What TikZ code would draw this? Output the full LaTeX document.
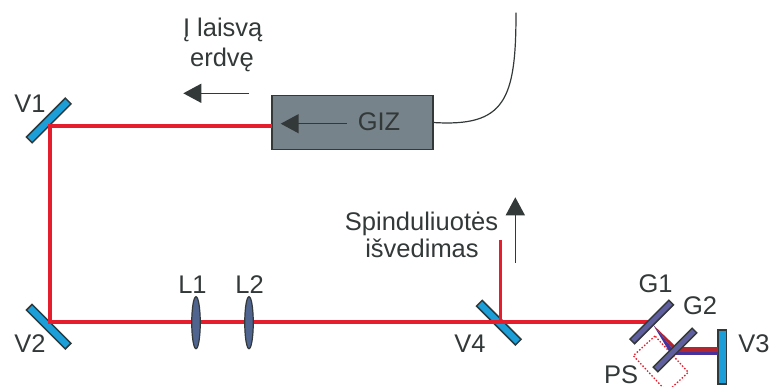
\documentclass[tikz,border=0pt]{standalone}
\usepackage{fontspec}
\setmainfont{Liberation Sans}
\usetikzlibrary{arrows.meta,shapes.geometric}
\definecolor{beamred}{HTML}{E41E2D}
\definecolor{mirrorblue}{HTML}{1C9FD8}
\definecolor{edgedark}{HTML}{333839}
\definecolor{gizgray}{HTML}{76838A}
\definecolor{lensblue}{HTML}{4F6590}
\definecolor{gratepurple}{HTML}{5F5FA0}
\definecolor{bandred}{HTML}{B3262F}
\definecolor{bandblue}{HTML}{46329A}
\tikzset{
  x=1pt,y=-1pt,
  mirror/.style={draw=edgedark,line width=1.5pt,fill=mirrorblue,rectangle,minimum width=55pt,minimum height=8pt,inner sep=0pt,outer sep=0pt},
  grating/.style={mirror,fill=gratepurple,minimum height=6.5pt},
  lens/.style={draw=edgedark,line width=1.2pt,fill=lensblue,ellipse,minimum width=8.5pt,minimum height=52pt,inner sep=0pt,outer sep=0pt},
  beam/.style={draw=beamred,line width=4.2pt},
  label/.style={font=\fontsize{25.5}{25.5}\selectfont,text=edgedark,anchor=base,inner sep=0pt},
  flow/.style={draw=edgedark,line width=1.5pt,-{Triangle[length=18pt,width=19pt,fill=edgedark]}},
  psbox/.style={draw=beamred,line width=1.3pt,dash pattern=on 1.5pt off 1.8pt},
}
\begin{document}
\begin{tikzpicture}
\useasboundingbox (0,0) rectangle (770,387);
% components
\node[mirror,rotate=45] (V1) at (48.7,120.5) {};
\node[mirror,rotate=-45] (V2) at (48.7,326.7) {};
\node[mirror,rotate=-45] (V4) at (498.8,322.7) {};
\node[rectangle,draw=edgedark,line width=1.5pt,fill=gizgray,minimum width=161pt,minimum height=54pt,inner sep=0pt,outer sep=0pt] (GIZ) at (352.7,122.7) {};
\coordinate (c1) at (50.3,126);
\coordinate (c2) at (50.3,321.7);
\coordinate (c4) at (500.3,321.7);
\coordinate (c5) at (651,321.7);
\coordinate (out) at (500.3,240);
% beams
\draw[beam,line join=miter] (GIZ.west |- c1) -- (c1) -- (c2) -- (c5);
\draw[beam,line width=3.6pt] (c4) -- (out);
\node[lens] (L1) at (196,322.7) {};
\node[lens] (L2) at (249,322.7) {};
% compressor
\coordinate (p1) at (655,336);
\coordinate (p2) at (633.3,355.7);
\coordinate (p3) at (667,392);
\coordinate (p4) at (688.3,372.3);
\draw[psbox] (p1) -- (p2) -- (p3) -- (p4) -- cycle;
\node[rectangle,draw=edgedark,line width=1.5pt,fill=mirrorblue,minimum width=8.5pt,minimum height=54pt,inner sep=0pt,outer sep=0pt] (V3) at (722,357.2) {};
\coordinate (g1a) at (653.3,325);
\coordinate (g2a) at (676,346.7);
\coordinate (g2m) at (673,349.5);
\coordinate (g2b) at (670,353);
\fill[bandred] (g1a) -- (g2a) -- (g2m) -- cycle;
\fill[bandblue] (g1a) -- (g2m) -- (g2b) -- cycle;
\fill[bandred] (673,347.3) rectangle (V3.west |- 0,351.7);
\fill[bandblue] (673,351.7) rectangle (V3.west |- 0,355.2);
\node[grating,rotate=45] (G1) at (651.7,322) {};
\node[grating,rotate=45] (G2) at (675,350) {};
% arrows
\coordinate (a1s) at (249,93.3); \coordinate (a1e) at (183.3,93.3);
\draw[flow] (a1s) -- (a1e);
\coordinate (a2s) at (346.7,123.7); \coordinate (a2e) at (280.7,123.7);
\draw[flow] (a2s) -- (a2e);
\coordinate (a3s) at (515.3,262.7); \coordinate (a3e) at (515.3,197.3);
\draw[flow] (a3s) -- (a3e);
% fibre
\coordinate (f) at (516,12.7);
\draw[edgedark,line width=1.2pt] (GIZ.east |- 0,122.5) .. controls (505,127) and (516,100) .. (f);
% labels
\node[label] (tV1) at (30,113) {V1};
\node[label] (tV2) at (30,352) {V2};
\node[label] (tV3) at (754,352) {V3};
\node[label] (tV4) at (470,352.5) {V4};
\node[label] (tL1) at (192.5,293) {L1};
\node[label] (tL2) at (249.5,293) {L2};
\node[label] (tG1) at (655.5,292) {G1};
\node[label] (tG2) at (700,314) {G2};
\node[label] (tPS) at (621,383) {PS};
\node[label] (tGIZ) at (379,131) {GIZ};
\node[label] (t1) at (222.7,37) {Į laisvą};
\node[label] (t2) at (222,66.7) {erdvę};
\node[label] (t3) at (421.5,230) {Spinduliuotės};
\node[label] (t4) at (422,258) {išvedimas};
\end{tikzpicture}
\end{document}
